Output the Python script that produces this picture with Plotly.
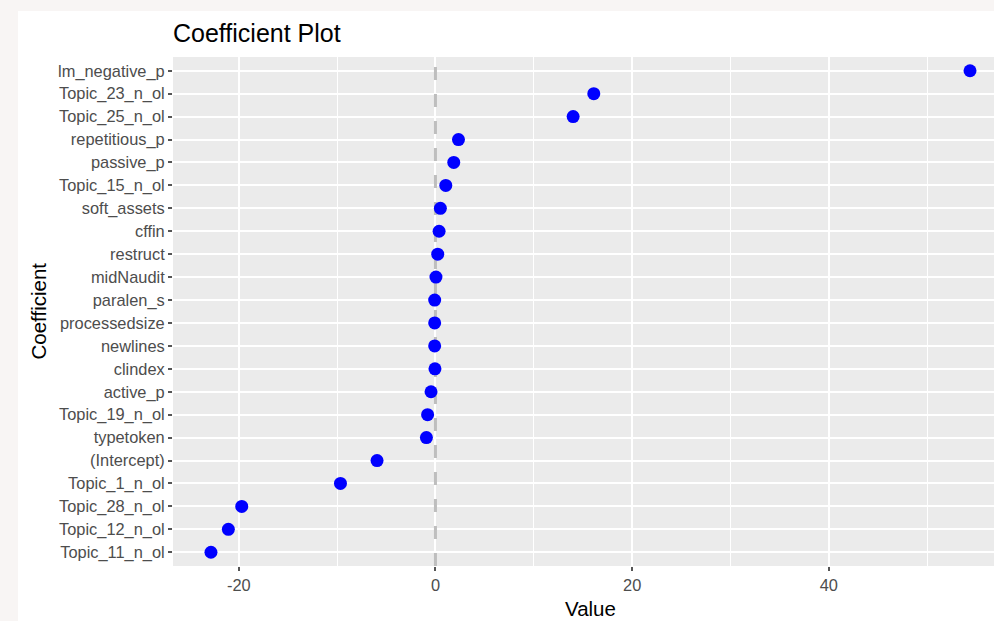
import plotly.graph_objects as go

# Coefficient names, listed top to bottom
coef_names = [
    "lm_negative_p", "Topic_23_n_ol", "Topic_25_n_ol", "repetitious_p",
    "passive_p", "Topic_15_n_ol", "soft_assets", "cffin", "restruct",
    "midNaudit", "paralen_s", "processedsize", "newlines", "clindex",
    "active_p", "Topic_19_n_ol", "typetoken", "(Intercept)", "Topic_1_n_ol",
    "Topic_28_n_ol", "Topic_12_n_ol", "Topic_11_n_ol",
]
coef_values = [
    54.36, 16.1, 14.0, 2.34,
    1.86, 1.05, 0.5, 0.37, 0.23,
    0.05, -0.08, -0.08, -0.08, -0.05,
    -0.45, -0.8, -0.92, -5.94, -9.66,
    -19.7, -21.06, -22.83,
]
x_ticks = [-20, 0, 20, 40]
x_tick_labels = ["-20", "0", "20", "40"]
x_minor = [-10, 10, 30, 50]

W, H = 994, 621
L, R, T, B = 173, 0, 57, 55
PW, PH = W - L - R, H - T - B
FONT = "Liberation Sans, Arial, sans-serif"
EDGE = "#F8F5F4"
N = len(coef_names)

fig = go.Figure()
fig.add_trace(go.Scatter(
    x=coef_values, y=coef_names, mode="markers",
    marker=dict(color="#0000FF", size=13, line=dict(width=0)),
    showlegend=False, hoverinfo="x+y",
))

# dashed reference line at zero, spanning the whole panel height
fig.add_shape(type="line", xref="x", yref="y", x0=0, x1=0,
              y0=N - 0.4, y1=-0.6,
              line=dict(color="#BEBEBE", width=3, dash="13px,14px"),
              layer="between")

# light page edge along the top and left of the white panel
fig.add_shape(type="rect", xref="paper", yref="paper",
              x0=-L / PW - 0.01, x1=1.01,
              y0=1 + (T - 11) / PH, y1=1 + T / PH + 0.01,
              fillcolor=EDGE, line=dict(width=0), layer="below")
fig.add_shape(type="rect", xref="paper", yref="paper",
              x0=-L / PW - 0.01, x1=(18 - L) / PW,
              y0=-B / PH - 0.01, y1=1 + T / PH + 0.01,
              fillcolor=EDGE, line=dict(width=0), layer="below")

fig.update_layout(
    width=W, height=H,
    margin=dict(l=L, r=R, t=T, b=B, pad=0),
    paper_bgcolor="white",
    plot_bgcolor="#EBEBEB",
    font=dict(family=FONT),
    title=dict(text="Coefficient Plot", x=0, xref="paper", xanchor="left",
               y=1 - 33 / H, yref="container", yanchor="middle",
               font=dict(size=25, color="black", family=FONT)),
    xaxis=dict(
        range=[-26.69, 56.8], tickmode="array", tickvals=x_ticks,
        ticktext=x_tick_labels, showgrid=True, gridcolor="white",
        gridwidth=1.6, zeroline=False, ticks="outside", ticklen=4,
        tickwidth=1.5, tickcolor="#555555",
        tickfont=dict(size=16.4, color="#4D4D4D", family=FONT),
        minor=dict(tickmode="array", tickvals=x_minor, showgrid=True,
                   gridcolor="white", gridwidth=1.3),
        showline=False, fixedrange=True,
    ),
    yaxis=dict(
        type="category", categoryorder="array", categoryarray=coef_names,
        range=[N - 0.4, -0.6],
        showgrid=True, gridcolor="white", gridwidth=1.6, zeroline=False,
        ticks="outside", ticklen=4, tickwidth=1.5, tickcolor="#555555",
        tickfont=dict(size=16.4, color="#4D4D4D", family=FONT),
        showline=False, fixedrange=True,
    ),
    annotations=[
        dict(text="Value", xref="paper", yref="paper",
             x=(590.5 - L) / PW, y=0, yshift=-42,
             xanchor="center", yanchor="middle", showarrow=False,
             font=dict(size=20.5, color="black", family=FONT)),
        dict(text="Coefficient", xref="paper", yref="paper",
             x=0, xshift=-(L - 38), y=0.5, textangle=-90,
             xanchor="center", yanchor="middle", showarrow=False,
             font=dict(size=20.5, color="black", family=FONT)),
    ],
)

fig.write_html("out.html", config={"displayModeBar": False})
